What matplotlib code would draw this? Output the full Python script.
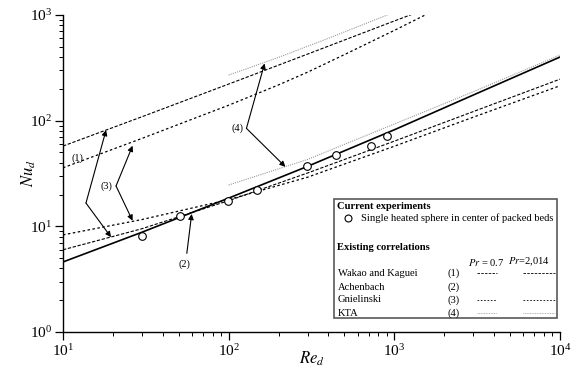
import matplotlib
matplotlib.use('Agg')
import matplotlib.pyplot as plt
from matplotlib.lines import Line2D
from matplotlib.patches import Rectangle

plt.rcParams['font.family'] = ['Liberation Serif', 'DejaVu Serif']
plt.rcParams['mathtext.fontset'] = 'stix'

# experiments: single heated sphere in centre of packed beds
exp_re = [30, 51, 99, 148, 298, 445, 724, 904]
exp_nu = [8.15, 12.6, 17.5, 22.0, 37.2, 47.0, 57.9, 71.0]

# (1) Wakao and Kaguei
wakao_re_07 = [10, 30, 100, 300, 1000, 3000, 10000]
wakao_nu_07 = [6.0, 9.5, 17.5, 32, 64, 122, 247]
wakao_re_2014 = [10, 30, 100, 300, 1000, 1500]
wakao_nu_2014 = [57.5, 109, 222, 427, 878, 1115]

# (2) Achenbach
ach_re = [10, 30, 100, 300, 1000, 3000, 10000]
ach_nu = [4.6, 8.8, 18.5, 37, 82, 175, 400]

# (3) Gnielinski
gn_re_07 = [10, 30, 100, 300, 1000, 3000, 10000]
gn_nu_07 = [8.3, 11.6, 17.9, 29.2, 57.3, 108, 214]
gn_re_2014 = [10, 30, 100, 200, 300, 500, 1000, 1500, 2000]
gn_nu_2014 = [35.8, 68, 140, 218, 288, 422, 715, 982, 1235]

# (4) KTA
kta_re_07 = [100, 300, 1000, 3000, 10000]
kta_nu_07 = [24.6, 43, 93, 188, 418]
kta_re_2014 = [100, 200, 400, 1000]
kta_nu_2014 = [270, 397, 602, 1063]

W, H = 576, 376
fig = plt.figure(figsize=(W / 100, H / 100), dpi=100)
ax = fig.add_axes([63 / W, 1 - 332 / H, (560 - 63) / W, (332 - 15) / H])

wak = dict(color='k', lw=0.8, ls=(0, (3, 1.5)))
gni = dict(color='k', lw=0.9, ls=(0, (2, 2)))
kta = dict(color='0.6', lw=0.8, ls=(0, (1, 1)))

ax.plot(wakao_re_07, wakao_nu_07, **wak)
ax.plot(wakao_re_2014, wakao_nu_2014, **wak)
ax.plot(gn_re_07, gn_nu_07, **gni)
ax.plot(gn_re_2014, gn_nu_2014, **gni)
ax.plot(kta_re_07, kta_nu_07, **kta)
ax.plot(kta_re_2014, kta_nu_2014, **kta)
ax.plot(ach_re, ach_nu, color='k', lw=1.2)
ax.plot(exp_re, exp_nu, ls='none', marker='o', ms=5.5, mfc='white',
        mec='k', mew=0.8, zorder=5)

ax.set_xscale('log')
ax.set_yscale('log')
ax.set_xlim(10, 1e4)
ax.set_ylim(1, 1e3)
for s in ['top', 'right']:
    ax.spines[s].set_visible(False)
for s in ['left', 'bottom']:
    ax.spines[s].set_linewidth(1.0)
ax.tick_params(which='major', length=6, width=0.9, labelsize=11,
               direction='out', pad=2)
ax.tick_params(which='minor', length=3, width=0.7, direction='out')
ax.set_xlabel(r'$Re_d$', fontsize=12, labelpad=-7)
ax.set_ylabel(r'$Nu_d$', fontsize=12, labelpad=-6)

# annotations
arr = dict(arrowstyle='-|>', color='k', lw=0.8, mutation_scale=8,
           shrinkA=0, shrinkB=0)
fs = 7.5
ax.text(12.3, 44.3, '(1)', fontsize=fs, ha='center', va='center')
ax.annotate('', xy=(18.2, 81.5), xytext=(13.76, 16.6), arrowprops=arr)
ax.annotate('', xy=(19.5, 7.9), xytext=(13.76, 16.6), arrowprops=arr)

ax.text(18.3, 24.1, '(3)', fontsize=fs, ha='center', va='center')
ax.annotate('', xy=(26.3, 57.9), xytext=(20.9, 24.1), arrowprops=arr)
ax.annotate('', xy=(26.3, 11.3), xytext=(20.9, 24.1), arrowprops=arr)

ax.text(113.8, 84.6, '(4)', fontsize=fs, ha='center', va='center')
ax.annotate('', xy=(164.8, 348), xytext=(128, 84.6), arrowprops=arr)
ax.annotate('', xy=(220, 36.6), xytext=(128, 84.6), arrowprops=arr)

ax.text(54.3, 4.4, '(2)', fontsize=fs, ha='center', va='center')
ax.annotate('', xy=(59.8, 13.1), xytext=(55.9, 5.55), arrowprops=arr)


# legend box, drawn by hand in figure pixels
def fp(x, y):
    return x / W, 1 - y / H


tf = fig.transFigure
x0, y0 = fp(334, 318)
fig.patches.append(Rectangle((x0, y0), 223 / W, 119 / H, transform=tf,
                             fill=True, facecolor='white', edgecolor='0.35',
                             lw=1.2, zorder=10))
lfs = 7.6
fig.text(*fp(337, 207), 'Current experiments', fontsize=lfs, fontweight='bold',
         va='center', zorder=11)
fig.add_artist(Line2D([348 / W], [1 - 218 / H], transform=tf, marker='o', ms=5,
                      mfc='white', mec='k', mew=0.8, zorder=11))
fig.text(*fp(361, 218), 'Single heated sphere in center of packed beds',
         fontsize=lfs, va='center', zorder=11)
fig.text(*fp(337, 247), 'Existing correlations', fontsize=lfs, fontweight='bold',
         va='center', zorder=11)
fig.text(*fp(468, 262), r'$Pr$ = 0.7', fontsize=lfs, va='center', zorder=11)
fig.text(*fp(508, 262), r'$Pr$=2,014', fontsize=lfs, va='center', zorder=11)

rows = [('Wakao and Kaguei', '(1)', wak, 273),
        ('Achenbach', '(2)', None, 287),
        ('Gnielinski', '(3)', gni, 300),
        ('KTA', '(4)', kta, 313)]
for name, num, style, yy in rows:
    fig.text(*fp(338, yy), name, fontsize=lfs, va='center', zorder=11)
    fig.text(*fp(447, yy), num, fontsize=lfs, va='center', zorder=11)
    if style is not None:
        st = dict(style, lw=0.6)
        for xa, xb in [(477, 497), (523, 555)]:
            fig.add_artist(Line2D([xa / W, xb / W], [1 - yy / H, 1 - yy / H],
                                  transform=tf, zorder=11, **st))

fig.savefig('out.png', dpi=100)
